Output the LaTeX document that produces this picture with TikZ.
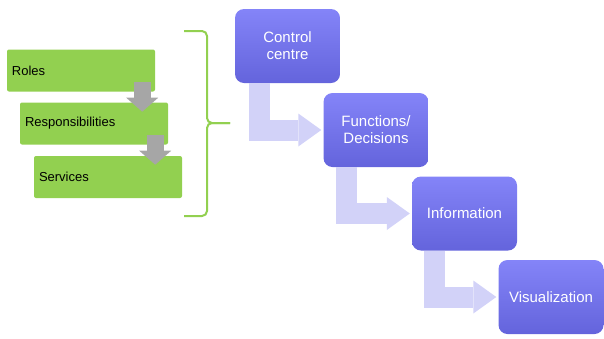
\documentclass[tikz,border=0pt]{standalone}
\usepackage{fontspec}
\setmainfont{Liberation Sans}
\usetikzlibrary{arrows.meta}

\definecolor{leafgreen}{RGB}{146,208,80}
\definecolor{periwinkle}{RGB}{132,132,248}
\definecolor{periwinkledark}{RGB}{100,100,220}
\definecolor{lilac}{RGB}{210,210,248}
\definecolor{stepgray}{RGB}{166,166,166}

\tikzset{
  role/.style={fill=leafgreen, rounded corners=2pt, minimum width=148pt, minimum height=42pt,
    text width=138pt, inner sep=5pt, align=left, font=\fontsize{13}{15}\selectfont},
  stage/.style={rounded corners=9pt, top color=periwinkle, bottom color=periwinkledark,
    minimum width=105pt, minimum height=74pt, text width=95pt, align=center, text=white,
    font=\fontsize{15}{17}\selectfont},
  flow/.style={draw=lilac, line width=21pt, shorten >=2pt,
    -{Triangle[width=33pt,length=23pt,line width=0pt]}},
  drop/.style={draw=stepgray, line width=17pt, -{Triangle[width=32pt,length=14pt,line width=0pt]}},
  bracket/.style={draw=leafgreen, line width=2pt, rounded corners=5pt},
}

\begin{document}
\begin{tikzpicture}[x=1pt,y=-1pt]
  \useasboundingbox (0,0) rectangle (604,338);
  % Left column
  \node[role] (roles) at (81,70.5) {Roles};
  \node[role] (resp) at (94,123.5) {Responsibilities};
  \node[role] (serv) at (108,177) {Services};
  % Gray step arrows
  \draw[drop] ([shift={(-13,-10)}]roles.south east) -- ([shift={(-13,20)}]roles.south east);
  \draw[drop] ([shift={(-13,-10)}]resp.south east) -- ([shift={(-13,20)}]resp.south east);
  % Brace
  \draw[bracket] (184,31) -- (207,31) -- (207,123) -- (230,123);
  \draw[bracket] (184,216) -- (207,216) -- (207,123) -- (230,123);
  % Stages
  \node[stage] (cc) at (287.5,46) {Control\\centre};
  \node[stage] (fd) at (376,130) {Functions/\\Decisions};
  \node[stage] (info) at (464.5,213.5) {Information};
  \node[stage] (vis) at (551,297) {Visualization};
  % Bent arrows
  \draw[flow] ([xshift=25pt]cc.south west) |- (fd.west);
  \draw[flow] ([xshift=23pt]fd.south west) |- (info.west);
  \draw[flow] ([xshift=23pt]info.south west) |- (vis.west);
\end{tikzpicture}
\end{document}
